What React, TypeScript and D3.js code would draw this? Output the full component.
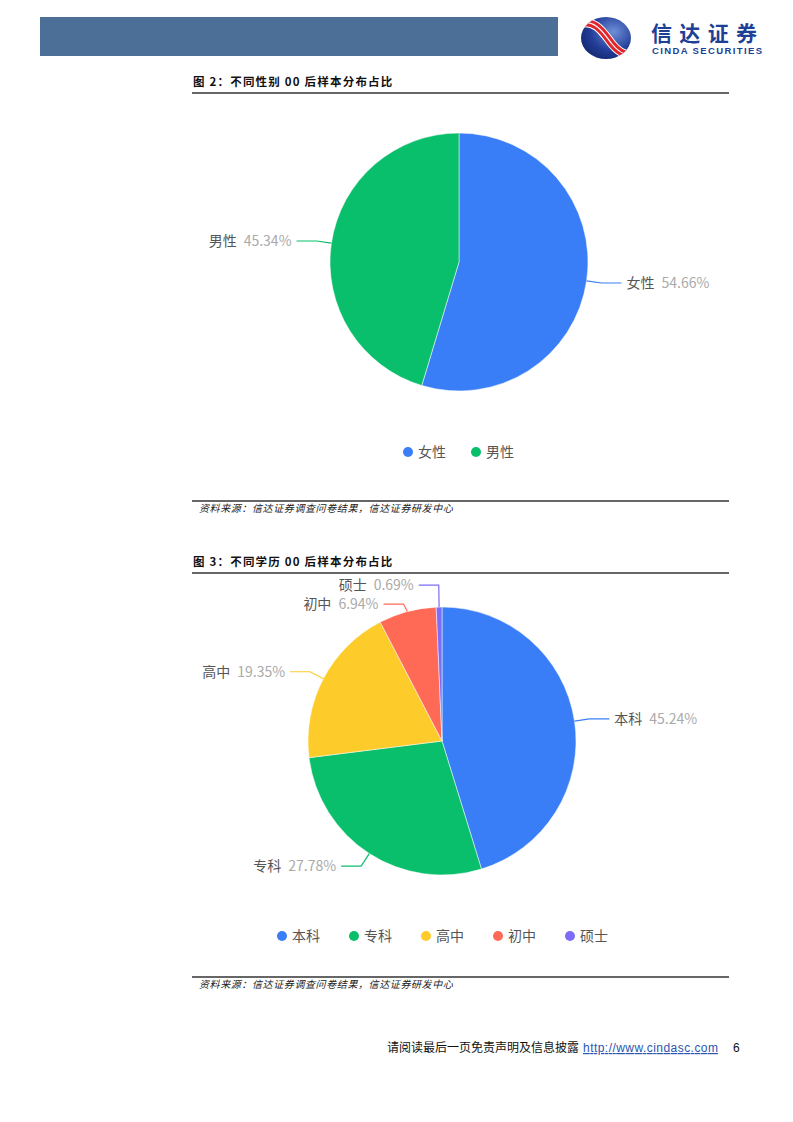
import React from "react";
import * as d3 from "d3";

const genderCats = ["女性", "男性"];
const genderVals = [54.66, 45.34];
const genderColors = ["#3a7ef7", "#0abf6c"];

const eduCats = ["本科", "专科", "高中", "初中", "硕士"];
const eduVals = [45.24, 27.78, 19.35, 6.94, 0.69];
const eduColors = ["#3a7ef7", "#0abf6c", "#fdcb2a", "#fe6a55", "#7c6cf7"];

const FONT = "'Noto Sans CJK SC', 'Noto Sans', sans-serif";

type PieProps = {
  cats: string[];
  vals: number[];
  colors: string[];
  cx: number;
  cy: number;
  r: number;
};

function PieChart({ cats, vals, colors, cx, cy, r }: PieProps) {
  const pie = d3.pie<number>().sort(null).value((d) => d);
  const arcs = pie(vals);
  const arc = d3.arc<d3.PieArcDatum<number>>().innerRadius(0).outerRadius(r);
  const len1 = 15;
  const len2 = 20;
  type L = { i: number; mid: number; right: boolean; x1: number; y1: number; x2: number; y2: number };
  const labels: L[] = arcs.map((a, i) => {
    const mid = (a.startAngle + a.endAngle) / 2;
    const s = Math.sin(mid), c = Math.cos(mid);
    return {
      i, mid, right: s >= 0,
      x1: cx + r * s, y1: cy - r * c,
      x2: cx + (r + len1) * s, y2: cy - (r + len1) * c,
    };
  });
  const minGap = 19;
  [true, false].forEach((side) => {
    const grp = labels.filter((l) => l.right === side).sort((a, b) => a.y2 - b.y2);
    for (let k = 1; k < grp.length; k++) {
      const a = grp[k - 1], b = grp[k];
      if (b.y2 - a.y2 < minGap) {
        const m = (a.y2 + b.y2) / 2;
        a.y2 = m - minGap / 2;
        b.y2 = m + minGap / 2;
      }
    }
  });
  return (
    <g>
      {arcs.map((a, i) => (
        <path key={i} d={arc(a) || ""} transform={`translate(${cx},${cy})`} fill={colors[i]} stroke="#fff" strokeWidth={0.5} />
      ))}
      {labels.map((l) => {
        const x3 = l.right ? l.x2 + len2 : l.x2 - len2;
        const tx = l.right ? x3 + 5 : x3 - 5;
        return (
          <g key={"l" + l.i}>
            <polyline points={`${l.x1},${l.y1} ${l.x2},${l.y2} ${x3},${l.y2}`} fill="none" stroke={colors[l.i]} strokeWidth={1.2} />
            <text x={tx} y={l.y2} dy="0.35em" textAnchor={l.right ? "start" : "end"} fontFamily={FONT} fontSize={14}>
              <tspan fill="#555">{cats[l.i]}</tspan>
              <tspan fill="#aaa" dx={7}>{vals[l.i].toFixed(2) + "%"}</tspan>
            </text>
          </g>
        );
      })}
    </g>
  );
}

function Legend({ cats, colors, x, y, step }: { cats: string[]; colors: string[]; x: number; y: number; step: number }) {
  return (
    <g>
      {cats.map((c, i) => (
        <g key={i} transform={`translate(${x + i * step},${y})`}>
          <circle cx={0} cy={0} r={5} fill={colors[i]} />
          <text x={10} y={0} dy="0.36em" fontFamily={FONT} fontSize={14} fill="#555">{c}</text>
        </g>
      ))}
    </g>
  );
}

function Title({ y, text }: { y: number; text: string }) {
  return (
    <g>
      <text x={193} y={y} fontFamily={FONT} fontWeight="bold" fontSize={11.5} letterSpacing={1.2} fill="#111">{text}</text>
      <line x1={192} x2={729} y1={y + 7} y2={y + 7} stroke="#333" strokeWidth={1.3} />
    </g>
  );
}

function Source({ y }: { y: number }) {
  return (
    <g>
      <line x1={192} x2={729} y1={y} y2={y} stroke="#333" strokeWidth={1.3} />
      <text x={199} y={y + 11} fontFamily={FONT} fontStyle="italic" fontSize={10} letterSpacing={0.6} fill="#222">
        资料来源：信达证券调查问卷结果，信达证券研发中心
      </text>
    </g>
  );
}

export default function App() {
  return (
    <div style={{ position: "absolute", left: 0, top: 0 }}>
      <svg width={793} height={1122} style={{ display: "block", background: "#fff" }}>
        <defs>
          <radialGradient id="logoG" cx="0.65" cy="0.35" r="0.75">
            <stop offset="0" stopColor="#6f8fd8" />
            <stop offset="0.6" stopColor="#243f9a" />
            <stop offset="1" stopColor="#12276e" />
          </radialGradient>
          <clipPath id="logoClip">
            <ellipse cx={606} cy={38} rx={25} ry={21} />
          </clipPath>
        </defs>
        {/* header */}
        <rect x={40} y={17} width={518} height={39} fill="#4b6f97" />
        <ellipse cx={606} cy={38} rx={25} ry={21} fill="url(#logoG)" />
        <g clipPath="url(#logoClip)">
          <path d="M578,24 C596,18 604,34 612,44 C620,54 630,58 640,52" fill="none" stroke="#fff" strokeWidth={9} />
          <path d="M578,24 C596,18 604,34 612,44 C620,54 630,58 640,52" fill="none" stroke="#e0262d" strokeWidth={7} />
          <path d="M578,24 C596,18 604,34 612,44 C620,54 630,58 640,52" fill="none" stroke="#fff" strokeWidth={1.2} />
        </g>
        <text x={651} y={41} fontFamily={FONT} fontWeight="bold" fontSize={21} fill="#1d3f96" textLength={106}>信达证券</text>
        <text x={652} y={54} fontFamily="'Liberation Sans', Arial, sans-serif" fontWeight="bold" fontSize={9.5} fill="#1d3f96" textLength={110}>CINDA SECURITIES</text>

        {/* chart 1 */}
        <Title y={86} text="图 2：不同性别 00 后样本分布占比" />
        <PieChart cats={genderCats} vals={genderVals} colors={genderColors} cx={459} cy={262} r={129} />
        <Legend cats={genderCats} colors={genderColors} x={408} y={452} step={68} />
        <Source y={501} />

        {/* chart 2 */}
        <Title y={566} text="图 3：不同学历 00 后样本分布占比" />
        <PieChart cats={eduCats} vals={eduVals} colors={eduColors} cx={442} cy={741} r={134} />
        <Legend cats={eduCats} colors={eduColors} x={282} y={936} step={72} />
        <Source y={977} />

        {/* footer */}
        <text x={387} y={1052} fontFamily={FONT} fontSize={12} fill="#111">请阅读最后一页免责声明及信息披露</text>
        <text x={583} y={1052} fontFamily="'Liberation Sans', Arial, sans-serif" fontSize={12} fill="#2a55b0" textDecoration="underline" textLength={135}>http://www.cindasc.com</text>
        <text x={733} y={1052} fontFamily="'Liberation Sans', Arial, sans-serif" fontSize={12} fill="#111">6</text>
      </svg>
    </div>
  );
}
